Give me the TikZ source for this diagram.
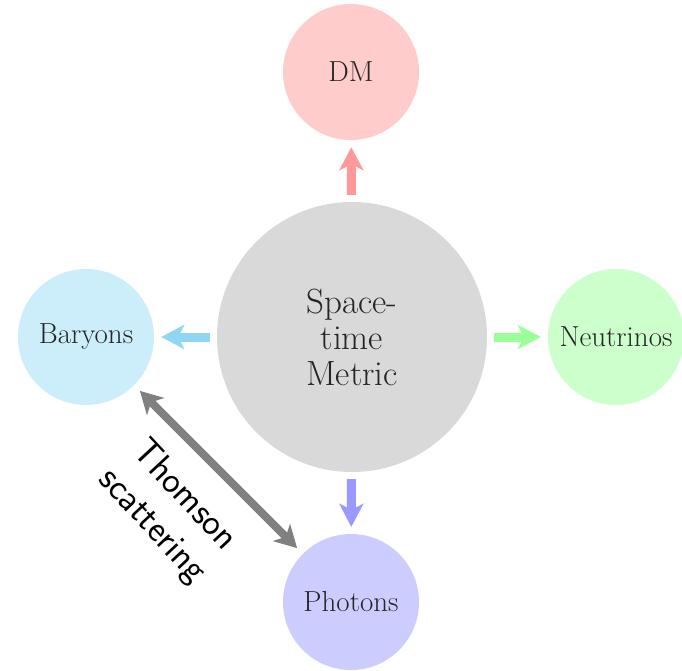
\documentclass[tikz,border=0pt]{standalone}
\usetikzlibrary{arrows.meta}
\definecolor{dmfill}{HTML}{FFCCCC}
\definecolor{dmarrow}{HTML}{FF9999}
\definecolor{barfill}{HTML}{CCEDFA}
\definecolor{bararrow}{HTML}{8ED6F1}
\definecolor{neufill}{HTML}{CCFFCC}
\definecolor{neuarrow}{HTML}{99FF99}
\definecolor{phofill}{HTML}{CCCCFF}
\definecolor{phoarrow}{HTML}{9999FF}
\definecolor{stfill}{HTML}{D9D9D9}
\definecolor{thomson}{HTML}{808080}
\begin{document}
\begin{tikzpicture}[x=1pt,y=1pt,
  circ/.style={circle, inner sep=0pt, minimum size=136pt, text=black!85,
    font=\fontsize{29}{34}\selectfont},
  flow/.style={line width=9pt, -{Stealth[length=23pt,width=24pt,inset=6pt]},
    shorten <=7pt, shorten >=7pt},
  scat/.style={line width=8pt, {Stealth[length=22pt,width=24pt,inset=6pt]}-{Stealth[length=22pt,width=24pt,inset=6pt]},
    shorten <=8pt, shorten >=8pt, draw=thomson}]
\useasboundingbox (0,0) rectangle (682,-670);
\node[circ, fill=stfill, minimum size=270pt, align=center,
  font=\fontsize{35}{36}\selectfont] (st) at (352,-337) {Space-\\time\\Metric};
\node[circ, fill=dmfill] (dm) at (351,-72) {DM};
\node[circ, fill=barfill] (bar) at (86,-337) {Baryons};
\node[circ, fill=neufill] (neu) at (616,-337) {Neutrinos};
\node[circ, fill=phofill] (pho) at (351,-602) {Photons};
\draw[flow, draw=dmarrow] (st) -- (dm);
\draw[flow, draw=bararrow] (st) -- (bar);
\draw[flow, draw=neuarrow] (st) -- (neu);
\draw[flow, draw=phoarrow] (st) -- (pho);
\draw[scat] (bar) -- (pho);
\node[rotate=-47, align=center, font=\sffamily\fontsize{37}{44}\selectfont]
  (lbl) at (168,-511) {Thomson\\scattering};
\end{tikzpicture}
\end{document}
